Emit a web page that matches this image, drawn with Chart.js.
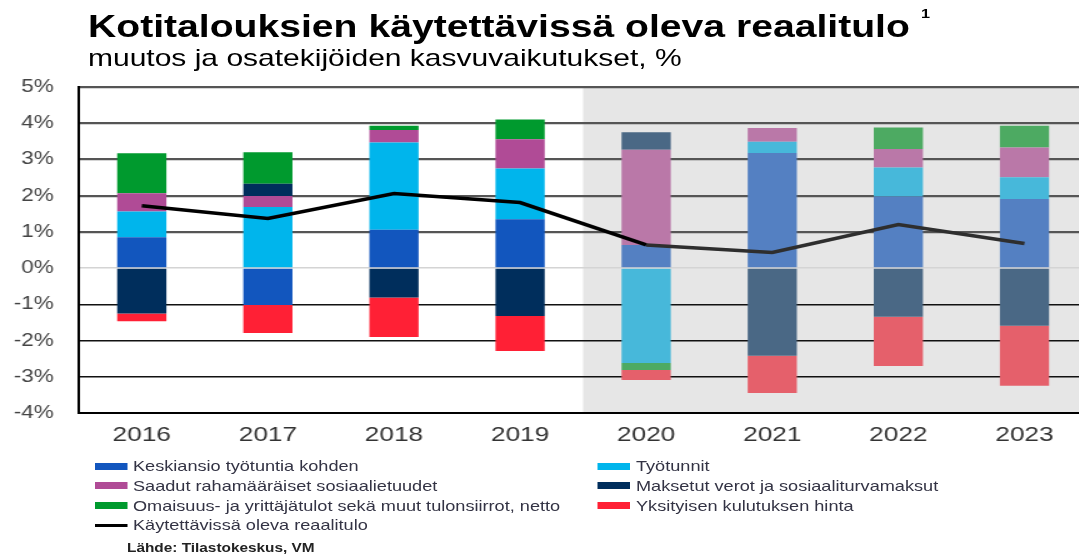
<!DOCTYPE html>
<html><head><meta charset="utf-8">
<script src="https://cdn.jsdelivr.net/npm/chart.js@4.4.0/dist/chart.umd.min.js"></script>
<style>
html,body{margin:0;padding:0;width:1079px;height:555px;overflow:hidden;background:#fff;}
#wrap{position:absolute;left:0;top:0;width:870px;height:555px;transform:scaleX(1.25);transform-origin:0 0;font-family:'Liberation Sans',Arial,sans-serif;}
#c{position:absolute;left:0;top:0;}
.t{position:absolute;white-space:nowrap;color:#000;}
.lg{position:absolute;height:14px;display:flex;align-items:center;white-space:nowrap;font-size:14.5px;color:#333344;}
.sw{display:inline-block;width:25.6px;height:7px;margin-right:4.8px;}
</style></head><body>
<div id="wrap">
<canvas id="c" width="870" height="555" style="width:870px;height:555px"></canvas>
<div class="t" style="left:70.4px;top:11px;font-weight:bold;font-size:31.3px;line-height:32px;">Kotitalouksien käytettävissä oleva reaalitulo<span style="font-size:13px;line-height:13px;vertical-align:top;position:relative;top:-4px;margin-left:9px;">1</span></div>
<div class="t" style="left:70.4px;top:45.5px;font-size:24px;line-height:24px;">muutos ja osatekijöiden kasvuvaikutukset, %</div>
<div id="legend"></div>
<div class="t" style="left:101.6px;top:541px;font-size:12.3px;line-height:14px;font-weight:bold;color:#222;">Lähde: Tilastokeskus, VM</div>
</div>
<script>
// ---- data ----
const categories = ['2016','2017','2018','2019','2020','2021','2022','2023'];
const keskiansio = [0.85, -1.02, 1.06, 1.35, 0.64, 3.18, 1.98, 1.91];
const tyotunnit  = [0.71, 1.69, 2.41, 1.40, -2.62, 0.31, 0.80, 0.60];
const saadut     = [0.51, 0.30, 0.34, 0.81, 2.63, 0.38, 0.51, 0.82];
const maksetut   = [-1.25, 0.34, -0.81, -1.32, 0.48, -2.42, -1.34, -1.59];
const omaisuus   = [1.10, 0.87, 0.12, 0.54, -0.19, null, 0.59, 0.60];
const hinta      = [-0.22, -0.77, -1.09, -0.97, -0.28, -1.03, -1.36, -1.66];
const reaalitulo = [1.72, 1.37, 2.06, 1.81, 0.64, 0.43, 1.20, 0.68];
const yMin = -4, yMax = 5, yStep = 1;
const forecastStart = 4; // index of first forecast year (2020)

// ---- styles ----
const FONT = "'Liberation Sans', Arial, sans-serif";
const series = [
  {label:'Keskiansio työtuntia kohden', data:keskiansio, hist:'#1256BE', fc:'#5480C2'},
  {label:'Työtunnit', data:tyotunnit, hist:'#00B5EC', fc:'#47B8DA'},
  {label:'Saadut rahamääräiset sosiaalietuudet', data:saadut, hist:'#B04B96', fc:'#BA78A8'},
  {label:'Maksetut verot ja sosiaaliturvamaksut', data:maksetut, hist:'#002E5C', fc:'#4A6885'},
  {label:'Omaisuus- ja yrittäjätulot sekä muut tulonsiirrot, netto', data:omaisuus, hist:'#009A2E', fc:'#4DAA62'},
  {label:'Yksityisen kulutuksen hinta', data:hinta, hist:'#FF2035', fc:'#E5606B'}
];
const datasets = series.map(s => ({
  type:'bar', label:s.label, data:s.data,
  backgroundColor: categories.map((c,i) => i >= forecastStart ? s.fc : s.hist),
  borderWidth:0, barPercentage:0.39, categoryPercentage:1, legendColor:s.hist
}));
datasets.push({
  type:'line', label:'Käytettävissä oleva reaalitulo', data:reaalitulo,
  borderColor:'#000', borderWidth:3.5, pointRadius:0, tension:0, order:-1,
  segment:{borderColor: ctx => ctx.p0DataIndex >= forecastStart ? '#2e2e2e' : '#000'},
  legendColor:'#000'
});

const shadePlugin = {
  id:'shade',
  beforeDraw(chart){
    const {ctx, chartArea:a, scales:{x}} = chart;
    const x0 = (x.getPixelForValue(forecastStart-1) + x.getPixelForValue(forecastStart)) / 2;
    ctx.save();
    ctx.fillStyle = '#e6e6e6';
    ctx.fillRect(x0, a.top, a.right - x0, a.bottom - a.top);
    ctx.restore();
  }
};

const chart = new Chart(document.getElementById('c'), {
  type:'bar',
  data:{labels:categories, datasets},
  options:{
    responsive:false, animation:false, devicePixelRatio:1,
    layout:{padding:{top:87,left:0,right:0,bottom:0}},
    plugins:{legend:{display:false}, tooltip:{enabled:false}},
    scales:{
      x:{
        stacked:true,
        grid:{display:false, drawTicks:false},
        border:{display:true, color:'#000', width:2},
        ticks:{color:'#333', font:{family:FONT, size:21}, padding:10},
        afterFit(s){ s.height = 142; }
      },
      y:{
        stacked:true, min:yMin, max:yMax,
        ticks:{stepSize:yStep, callback:v => v + '%', color:'#444', font:{family:FONT, size:18}, padding:20},
        grid:{
          drawTicks:false,
          color: ctx => ctx.tick.value === 0 ? '#d4d4d4' : (ctx.tick.value > 0 ? '#555' : '#111'),
          lineWidth: ctx => ctx.tick.value === 0 ? 1.5 : (ctx.tick.value > 0 ? 2.2 : 1.5)
        },
        border:{color:'#000', width:2},
        afterFit(s){ s.width = 63; }
      }
    }
  },
  plugins:[shadePlugin]
});

// ---- HTML legend built from the datasets ----
const lg = document.getElementById('legend');
chart.data.datasets.forEach((ds, i) => {
  const col = i % 2, row = Math.floor(i / 2);
  const el = document.createElement('div');
  el.className = 'lg';
  el.style.left = (col ? 478.4 : 76) + 'px';
  el.style.top = (466 + row * 19.8 - 7) + 'px';
  const sw = document.createElement('span');
  sw.className = 'sw';
  sw.style.background = ds.legendColor;
  if (ds.type === 'line') { sw.style.height = '3.5px'; }
  el.appendChild(sw);
  el.appendChild(document.createTextNode(ds.label));
  lg.appendChild(el);
});
</script>
</body></html>
